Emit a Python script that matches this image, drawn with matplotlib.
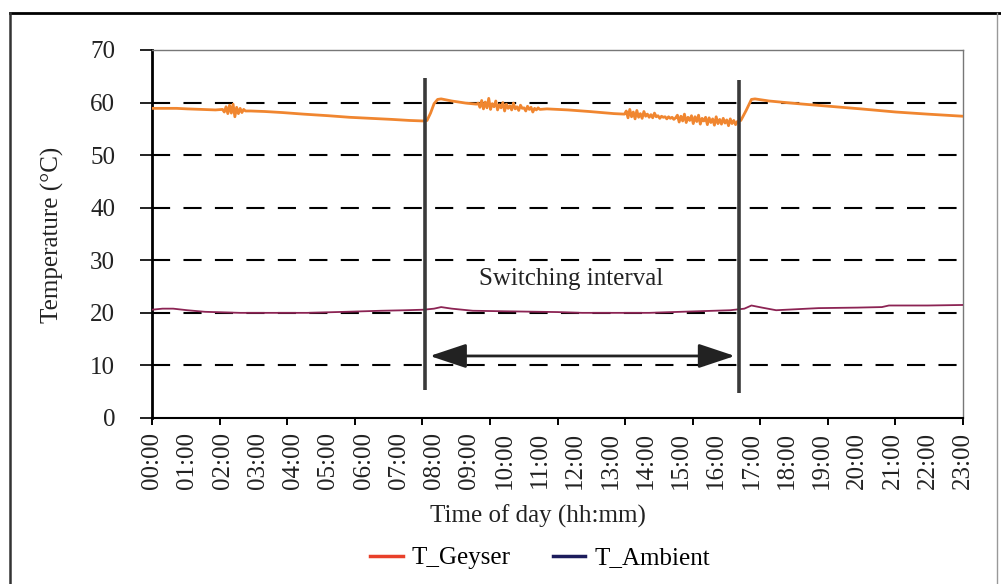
import numpy as np
import matplotlib
matplotlib.use("Agg")
import matplotlib.pyplot as plt
from matplotlib.lines import Line2D

plt.rcParams['font.family'] = ['Liberation Serif', 'DejaVu Serif']

# --- geyser water temperature (hours of day, deg C) ---
geyser_smooth_a_h = [0.0, 0.3, 0.7, 1.0, 1.4, 1.8, 2.0]
geyser_smooth_a_t = [58.9, 58.9, 58.9, 58.8, 58.7, 58.6, 58.7]
# 3-minute samples during the early-morning draw-off
geyser_burst_1_t = [58.2, 59.2, 57.9, 59.5, 58.0, 59.7, 57.3, 59.1, 57.9, 58.9,
                    58.1, 58.7, 58.4]
geyser_smooth_b_h = [2.8, 3.2, 3.7, 4.3, 5.0, 5.6, 6.2, 6.8, 7.3, 7.7, 7.8, 7.9,
                     8.0, 8.1, 8.2, 8.5, 8.9, 9.2]
geyser_smooth_b_t = [58.4, 58.3, 58.1, 57.8, 57.5, 57.2, 57.0, 56.8, 56.6, 56.5,
                     56.6, 58.0, 59.8, 60.6, 60.7, 60.3, 59.9, 59.7]
geyser_burst_2_t = [59.9, 59.1, 60.4, 58.8, 60.1, 59.0, 60.8, 58.7, 59.8, 59.2,
                    60.3, 58.6, 59.6, 59.0, 60.0, 58.4, 59.7, 58.9, 59.4, 58.6,
                    59.9, 58.8, 59.2, 58.5, 59.5, 58.9, 59.0, 58.4, 59.3, 58.7,
                    59.1, 58.2, 58.9, 58.6, 59.0, 58.7]
geyser_smooth_c_h = [11.2, 11.8, 12.4, 13.1, 13.4]
geyser_smooth_c_t = [58.8, 58.6, 58.3, 57.9, 57.8]
geyser_burst_3_t = [58.4, 57.1, 58.7, 57.3, 58.2, 56.9, 58.5, 57.2, 57.9, 57.0,
                    58.3, 57.4,
                    57.8, 57.2, 57.7, 57.1, 58.0, 57.3, 57.5, 57.0, 57.4, 57.2,
                    57.3, 56.9, 57.3, 57.0, 57.2, 56.8, 57.1,
                    57.6, 56.3, 57.4, 56.5, 57.8, 56.2, 57.2, 56.6, 57.5, 56.0,
                    57.3, 56.4, 57.6, 55.9, 57.0, 56.5, 57.2, 55.8, 57.1, 56.2,
                    56.9, 55.7, 57.3, 56.0, 56.8, 55.9, 57.0, 56.1, 56.7, 55.6,
                    56.9, 56.0, 56.6, 55.8, 56.4]
geyser_smooth_d_h = [16.7, 16.85, 17.0, 17.1, 17.5, 18.3, 19.2, 20.1, 21.1, 22.0, 23.0]
geyser_smooth_d_t = [56.6, 58.5, 60.6, 60.7, 60.3, 59.8, 59.3, 58.8, 58.2, 57.8, 57.4]

# --- ambient temperature ---
ambient_h = [0.0, 0.3, 0.6, 1.0, 1.5, 2.5, 3.5, 4.4, 5.5, 6.5, 7.2, 7.7, 8.0, 8.2,
             8.5, 9.1, 10.0, 11.5, 12.2, 13.0, 14.1, 15.0, 16.4, 16.8, 17.0, 17.3,
             17.7, 18.3, 18.9, 20.0, 20.7, 20.9, 22.0, 23.0]
ambient_t = [20.6, 20.8, 20.8, 20.5, 20.2, 20.0, 20.0, 20.0, 20.2, 20.4, 20.5, 20.6,
             20.8, 21.1, 20.8, 20.4, 20.3, 20.15, 20.0, 20.0, 20.0, 20.2, 20.5, 20.8,
             21.4, 21.0, 20.5, 20.7, 20.9, 21.0, 21.1, 21.4, 21.4, 21.5]

switch_on_h = 7.74
switch_off_h = 16.65
hour_labels = ['%02d:00' % h for h in range(24)]
y_ticks = [0, 10, 20, 30, 40, 50, 60, 70]
grid_levels = [10, 20, 30, 40, 50, 60]

FS = 18
INK = '#222222'

step = 0.05
geyser_h = np.concatenate([
    geyser_smooth_a_h,
    2.05 + step * np.arange(len(geyser_burst_1_t)),
    geyser_smooth_b_h,
    9.25 + step * np.arange(len(geyser_burst_2_t)),
    geyser_smooth_c_h,
    13.45 + step * np.arange(len(geyser_burst_3_t)),
    geyser_smooth_d_h,
])
geyser_t = np.concatenate([geyser_smooth_a_t, geyser_burst_1_t, geyser_smooth_b_t,
                           geyser_burst_2_t, geyser_smooth_c_t, geyser_burst_3_t,
                           geyser_smooth_d_t])

fig = plt.figure(figsize=(10.01, 5.84), dpi=100)
ax = fig.add_axes([152 / 1001, 166 / 584, 811 / 1001, 368 / 584])

for lvl in grid_levels:
    ax.axhline(lvl, color='black', lw=1.5, dashes=(8.7, 6.4), zorder=1)

ax.plot(geyser_h, geyser_t, color='#f08630', lw=2.0, zorder=3)
ax.plot(ambient_h, ambient_t, color='#8c2454', lw=1.3, zorder=3)

# switching interval markers
for xs, y0, y1 in [(switch_on_h, 5.3, 64.6), (switch_off_h, 4.8, 64.3)]:
    ax.plot([xs, xs], [y0, y1], color='#3a3a3a', lw=2.6, zorder=4,
            solid_capstyle='butt')
ax.annotate('', xy=(16.53, 11.8), xytext=(7.88, 11.8),
            arrowprops=dict(arrowstyle='<|-|>,head_length=0.9,head_width=0.3',
                            color=INK, lw=2.0, mutation_scale=25,
                            shrinkA=0, shrinkB=0), zorder=5)
ax.text(11.9, 26.4, 'Switching interval', fontsize=FS, ha='center', va='center',
        color=INK)

ax.set_xlim(0, 23)
ax.set_ylim(0, 70)

ax.set_yticks(y_ticks)
ax.tick_params(axis='y', direction='out', length=8.6, width=1.4, pad=18,
               labelsize=FS, colors=INK)
ax.xaxis.remove_overlapping_locs = False
ax.set_xticks(np.linspace(0, 23, 13))
ax.set_xticklabels([])
ax.set_xticks(range(24), minor=True)
ax.set_xticklabels(hour_labels, minor=True, rotation=90, ha='center', va='top')
ax.tick_params(axis='x', which='major', direction='out', length=5, width=1.4)
ax.tick_params(axis='x', which='minor', length=0, pad=10, labelsize=FS,
               colors=INK)

ax.spines['left'].set_linewidth(2.0)
ax.spines['bottom'].set_linewidth(1.5)
for side in ['top', 'right']:
    ax.spines[side].set_color('#777777')
    ax.spines[side].set_linewidth(1.0)

fig.text(52 / 1001, 1 - 235 / 584, 'Temperature (°C)', fontsize=FS,
         rotation=90, ha='center', va='center', color=INK)
fig.text(538 / 1001, 1 - 516 / 584, 'Time of day (hh:mm)', fontsize=FS,
         ha='center', va='center', color=INK)

handles = [Line2D([], [], color='#e8402a', lw=2.5),
           Line2D([], [], color='#1c1c5c', lw=2.5)]
fig.legend(handles, ['T_Geyser', 'T_Ambient'], loc='center',
           bbox_to_anchor=(540 / 1001, 1 - 558 / 584), ncol=2, frameon=False,
           fontsize=FS, handlelength=1.3, handletextpad=0.35, columnspacing=1.7)

# page frame around the figure
fig.add_artist(Line2D([10 / 1001, 1.0], [1 - 13 / 584, 1 - 13 / 584],
                      color='black', lw=2))
fig.add_artist(Line2D([10 / 1001, 10 / 1001], [0, 1 - 13 / 584],
                      color='#333333', lw=1.8))
fig.add_artist(Line2D([997 / 1001, 997 / 1001], [0, 1 - 13 / 584],
                      color='#999999', lw=1.0))

fig.savefig('out.png', dpi=100)
